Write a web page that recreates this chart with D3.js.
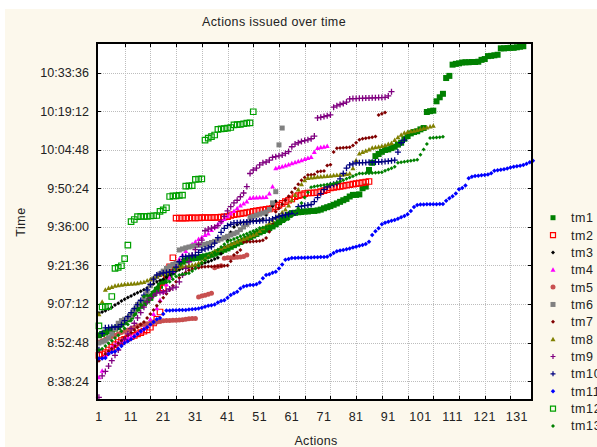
<!DOCTYPE html>
<html>
<head>
<meta charset="utf-8">
<script src="https://cdn.jsdelivr.net/npm/d3@7"></script>
<style>
  body { margin: 0; background: #fff; }
  text { font-family: "Liberation Sans", Arial, sans-serif; fill: #222; }
</style>
</head>
<body>
<div class="canvas"></div>
<script>
// time values are minutes after 8:00, index = action number - 1
const tm1 = [55.5,56.0,56.5,57.0,57.5,58.0,58.5,59.5,60.5,61.5,62.5,64.0,65.5,66.5,67.5,68.5,69.5,71.0,72.5,74.0,
  75.5,77.0,78.0,79.0,80.5,82.0,83.0,83.5,84.0,84.2,84.4,84.5,84.8,85.0,85.3,85.6,86.0,86.5,87.0,87.5,
  88.0,88.6,89.2,89.8,90.4,91.0,91.6,92.2,92.8,93.4,94.0,94.5,95.0,95.6,96.2,97.0,97.8,98.6,99.5,100.5,
  101.2,101.3,101.5,101.6,101.8,101.8,102.0,102.0,102.2,102.5,103.0,103.4,103.8,104.3,104.8,105.4,106.0,106.5,107.4,108.0,
  108.0,108.2,110.5,111.1,117.3,120.0,122.5,123.3,124.1,124.8,125.0,125.5,126.0,126.8,127.5,129.0,130.0,131.0,131.5,131.8,
  132.5,133.0,139.0,139.3,139.5,143.0,144.5,145.8,151.7,152.5,156.7,157.0,157.2,157.5,157.6,157.6,157.7,157.7,157.8,158.5,
  158.8,159.9,160.0,160.2,160.4,162.8,162.8,162.9,163.0,163.0,163.2,163.4,163.6]
const tm2 = [48.0,48.5,49.0,50.0,51.0,52.0,52.8,53.5,54.0,54.5,55.0,55.5,56.0,56.5,57.0,57.5,58.5,60.1,61.5,64.2,
  73.2,78.0,81.1,84.5,99.3,99.3,99.3,99.3,99.4,99.4,99.4,99.4,99.5,99.5,99.5,99.5,99.6,99.6,99.7,99.8,
  99.9,100.3,100.6,100.8,101.0,101.2,101.4,101.6,101.8,102.0,102.2,102.4,102.6,102.8,103.0,103.5,104.2,104.8,105.5,106.0,
  106.5,107.3,107.7,108.0,108.5,108.7,108.7,108.8,108.9,109.2,109.6,110.0,110.6,110.8,111.0,111.2,111.4,111.6,111.8,112.0,
  112.2,112.4,112.6,112.8,113.0]
const tm3 = [63.8,64.2,64.7,65.3,66.0,66.8,67.5,68.3,69.0,69.6,70.2,70.8,71.4,72.0,72.5,73.2,74.0,74.8,75.5,76.0,
  76.5,77.2,78.0,78.8,79.5,80.0,80.5,80.8,81.0,81.2,81.5,81.8,82.2,82.6,83.0,83.5,84.0,84.5,86.0,88.5,
  91.0,94.0,96.0,96.8,97.5,97.8,98.0,98.1,98.2,98.3,98.5,99.0,100.5,102.5,103.8,105.6]
const tm4 = [39.8,42.2,48.0,49.5,51.0,52.0,52.8,53.5,54.0,54.5,55.0,55.5,56.3,57.0,58.0,59.5,61.5,63.5,65.6,68.7,
  71.8,74.5,77.0,79.5,82.0,84.0,85.5,87.0,88.5,89.5,90.5,91.5,92.2,93.0,93.6,94.9,96.0,97.0,98.0,99.0,
  100.0,101.0,102.0,103.0,104.0,104.8,105.5,106.8,107.0,107.0,107.1,107.1,107.2,108.5,111.1,118.0,118.3,118.6,119.0,119.4,
  119.8,120.2,120.6,121.0,121.4,121.8,122.2,124.0,125.5,125.8,126.0,126.3]
const tm5 = [53.0,53.5,54.0,54.5,55.0,55.5,56.0,56.5,57.0,57.5,58.0,58.5,59.0,59.3,59.6,59.8,60.0,60.3,60.5,60.7,
  60.9,61.0,61.0,61.1,61.1,61.2,61.3,61.5,61.7,61.8,61.8,69.8,70.2,70.5,70.8,71.2,80.8,81.2,81.5,84.3,
  84.5,84.5,84.6,84.7,84.8,85.0,85.5]
const tm6 = [52.6,53.0,53.5,54.5,56.0,58.0,60.0,61.0,61.5,62.0,63.0,65.0,67.0,68.0,69.5,71.5,74.0,76.5,77.5,78.5,
  79.5,80.5,81.3,82.0,82.5,87.4,87.8,88.2,88.5,88.8,89.0,89.2,89.3,89.5,89.8,90.2,90.6,91.0,91.5,92.0,
  92.5,93.0,93.5,94.0,95.0,96.0,97.0,99.6,100.0,100.4,100.8,101.2,101.6,102.5,105.0,109.2,126.7,133.0]
const tm7 = [46.0,47.0,48.5,49.5,50.5,51.5,52.5,53.5,54.5,55.5,56.5,57.5,58.5,59.5,60.5,62.0,63.5,65.0,66.5,68.0,
  69.5,71.0,72.5,74.0,75.5,77.0,78.0,79.0,79.8,80.3,80.6,80.8,81.0,81.1,81.2,81.2,81.3,81.3,81.4,81.5,
  81.6,83.2,85.5,86.5,87.4,90.3,90.5,90.5,90.6,90.7,90.8,91.0,91.9,94.2,97.0,101.7,103.0,104.5,106.0,107.5,
  109.0,110.5,112.0,113.5,114.5,115.4,115.5,115.6,116.7,116.8,116.9,119.0,119.3,124.0,125.4,125.5,125.6,125.7,125.8,126.5,
  127.5,128.6,129.0,129.2,129.4,129.6,129.8,137.9,138.3,138.8]
const tm8 = [63.4,68.0,72.5,73.2,73.6,74.0,74.2,74.4,74.6,74.7,74.8,74.9,75.0,75.2,75.4,76.0,76.5,77.0,77.5,78.0,
  78.5,79.0,79.5,80.0,80.5,81.0,81.2,81.4,81.6,81.8,82.0,82.5,83.0,84.0,85.0,86.0,87.0,87.5,88.0,88.5,
  89.0,89.5,90.0,90.5,91.0,91.5,92.0,92.5,93.0,93.5,94.5,95.5,96.5,97.5,98.5,99.5,100.5,101.5,102.5,104.0,
  106.0,108.0,110.0,112.0,113.5,114.3,114.5,114.6,114.8,114.9,115.0,115.1,115.2,115.3,115.4,115.5,115.6,115.8,116.0,118.0,
  121.0,123.5,124.0,124.5,125.0,125.6,125.8,126.0,126.3,126.6,127.0,127.4,128.5,129.6,130.5,131.2,131.5,131.8,132.0,132.3,
  132.6,132.9,133.2,133.6,133.9]
const tm9 = [32.3,40.3,42.0,44.0,46.0,48.0,50.0,52.0,54.0,56.0,58.0,60.0,62.0,64.0,66.0,68.0,69.5,70.5,71.3,71.5,
  71.7,72.0,72.8,73.2,73.5,75.5,78.0,80.5,83.0,85.5,87.5,89.5,91.1,94.6,95.2,95.6,95.9,96.5,98.0,100.0,
  102.0,103.6,105.0,106.0,107.3,108.7,111.1,116.0,117.3,118.0,119.2,120.0,120.3,121.0,122.0,122.3,122.6,122.9,123.5,124.2,
  126.0,127.0,127.5,128.0,128.3,128.6,129.0,130.0,136.8,137.0,137.3,137.6,137.9,140.8,141.3,141.8,142.2,142.7,143.9,144.0,
  144.0,144.1,144.1,144.2,144.2,144.3,144.3,144.4,144.4,144.5,145.0,146.6]
const tm10 = [50.1,56.2,58.3,58.4,58.5,58.6,58.7,59.5,61.0,62.5,64.0,65.5,67.0,68.5,70.5,72.5,74.5,76.5,78.0,78.5,
  78.8,79.0,79.2,79.3,81.0,83.0,84.9,85.0,85.2,85.3,85.5,86.5,87.4,87.8,88.2,88.6,90.0,92.0,94.0,95.5,
  96.5,97.0,97.5,97.6,97.7,97.8,97.9,98.0,98.1,98.2,98.3,98.4,98.5,98.6,99.0,99.5,100.0,100.3,100.5,100.8,
  101.0,101.2,103.6,103.8,104.0,104.2,104.4,105.5,107.0,108.5,110.0,111.0,111.7,112.0,112.4,114.0,116.0,118.0,119.2,119.6,
  120.0,120.0,120.1,120.1,120.2,120.2,120.3,120.3,120.4,120.5,120.6,120.8,121.0,124.0,127.5,128.5]
const tm11 = [46.8,46.8,47.0,48.5,49.2,49.4,50.5,51.5,52.6,53.3,54.0,55.0,56.0,57.0,57.8,58.5,59.5,60.5,61.5,62.0,
  63.5,64.8,64.8,64.9,64.9,65.0,65.0,65.0,65.1,65.2,65.3,65.5,65.8,66.2,66.5,66.7,67.0,67.8,68.3,68.6,
  69.5,70.6,71.2,71.8,73.0,73.7,74.0,74.3,74.3,74.6,75.2,76.8,78.0,78.3,78.9,79.3,80.5,82.0,83.7,84.0,
  84.4,84.4,84.5,84.5,84.5,84.6,84.6,84.7,84.7,84.8,84.8,84.9,85.5,86.3,86.9,87.2,87.4,87.7,88.0,88.3,
  88.6,89.0,89.3,89.6,90.5,93.0,94.4,95.5,97.0,97.6,98.0,98.3,98.6,99.1,99.6,100.1,100.8,102.0,103.5,104.2,
  104.4,104.4,104.5,104.5,104.5,104.5,104.6,104.6,105.8,106.7,107.5,108.5,110.1,110.6,111.5,114.2,114.8,115.1,115.2,115.3,
  115.4,115.6,116.1,117.0,117.2,117.4,117.6,117.9,118.2,118.5,118.7,118.9,119.2,119.6,120.2,120.8]
const tm12 = [59.0,66.1,66.2,66.3,70.0,80.5,80.9,81.5,84.2,89.2,98.0,98.8,99.9,100.0,100.0,100.0,100.1,100.2,100.3,101.8,
  102.4,103.2,107.4,107.6,107.6,107.8,107.9,111.3,111.4,111.5,113.8,113.9,114.0,128.5,129.2,129.8,130.4,132.5,132.7,132.8,
  133.0,133.2,134.2,134.3,134.4,134.6,134.8,134.9,139.1]
const tm13 = [50.0,50.5,51.5,52.5,53.5,54.5,55.5,57.0,58.0,59.5,61.0,63.0,65.0,67.0,70.0,70.4,70.6,72.0,73.5,75.0,
  75.2,75.3,75.5,76.5,77.5,78.0,78.3,78.5,78.7,79.5,80.5,81.5,82.5,83.5,84.5,85.5,86.5,87.5,88.5,89.5,
  90.5,91.0,91.5,92.0,92.5,93.0,93.5,94.0,94.5,95.0,95.6,95.8,96.0,96.3,96.6,97.0,97.5,98.0,98.5,99.0,
  100.0,101.5,103.0,105.0,107.0,109.0,110.9,111.1,111.3,111.5,111.7,111.9,112.1,112.3,112.6,113.0,113.5,114.0,114.5,115.0,
  115.5,116.0,116.0,116.1,116.1,116.2,116.3,116.4,116.5,117.0,117.5,118.0,118.5,120.0,120.2,120.4,120.6,120.8,121.0,121.1,
  123.0,125.0,127.0,129.3,129.4,129.5,129.6,129.7]

const seriesNames = ['tm1','tm2','tm3','tm4','tm5','tm6','tm7','tm8','tm9','tm10','tm11','tm12','tm13']
const seriesValues = [tm1,tm2,tm3,tm4,tm5,tm6,tm7,tm8,tm9,tm10,tm11,tm12,tm13]
const xTickLabels = [1,11,21,31,41,51,61,71,81,91,101,111,121,131]
const yTickMinutes = [38.4,52.8,67.2,81.6,96.0,110.4,124.8,139.2,153.6]

// marker style per series
const styles = {
  tm1:  {shape:'square',  size:6,   fill:'#008000', stroke:'none'},
  tm2:  {shape:'square',  size:5.5, fill:'none',    stroke:'#ff0000'},
  tm3:  {shape:'diamond', size:4,   fill:'#000000', stroke:'none'},
  tm4:  {shape:'triangle',size:5,   fill:'#ff00ff', stroke:'none'},
  tm5:  {shape:'circle',  size:5,   fill:'#c85050', stroke:'none'},
  tm6:  {shape:'square',  size:5,   fill:'#808080', stroke:'none'},
  tm7:  {shape:'diamond', size:4,   fill:'#800000', stroke:'none'},
  tm8:  {shape:'triangle',size:5,   fill:'#808000', stroke:'none'},
  tm9:  {shape:'plus',    size:6,   fill:'none',    stroke:'#800080'},
  tm10: {shape:'plus',    size:6,   fill:'none',    stroke:'#000080'},
  tm11: {shape:'diamond', size:4.5, fill:'#0000ff', stroke:'none'},
  tm12: {shape:'square',  size:5.5, fill:'none',    stroke:'#00a000'},
  tm13: {shape:'diamond', size:4,   fill:'#008000', stroke:'none'}
}

const dims = { width: 597, height: 447 }
const plot = { left: 97, top: 43, right: 532, bottom: 400 }

const svg = d3.select('.canvas')
  .append('svg')
  .attr('width', dims.width)
  .attr('height', dims.height)

svg.append('rect')
  .attr('x', 5).attr('y', 9)
  .attr('width', dims.width - 5).attr('height', dims.height - 9)
  .attr('fill', '#fcf8ec')

svg.append('rect')
  .attr('x', plot.left).attr('y', plot.top)
  .attr('width', plot.right - plot.left).attr('height', plot.bottom - plot.top)
  .attr('fill', '#fff')

const x = d3.scaleLinear().domain([0.4, 135.7]).range([plot.left, plot.right])
const y = d3.scaleLinear().domain([31.3, 164.8]).range([plot.bottom, plot.top])

const fmtTime = m => {
  const s = Math.round(m * 60) + 8 * 3600
  const h = Math.floor(s / 3600)
  const mm = Math.floor((s % 3600) / 60)
  const ss = s % 60
  return `${h}:${String(mm).padStart(2,'0')}:${String(ss).padStart(2,'0')}`
}

// grid
const xGrid = d3.range(9, 136, 8)
const grid = svg.append('g')
  .attr('stroke', '#bdbdbd')
  .attr('stroke-width', 1)
  .attr('stroke-dasharray', '1,1')
grid.selectAll('.vg').data(xGrid).enter().append('line')
  .attr('x1', d => Math.round(x(d)) + 0.5).attr('x2', d => Math.round(x(d)) + 0.5)
  .attr('y1', plot.top).attr('y2', plot.bottom)
grid.selectAll('.hg').data(yTickMinutes).enter().append('line')
  .attr('y1', d => Math.round(y(d)) + 0.5).attr('y2', d => Math.round(y(d)) + 0.5)
  .attr('x1', plot.left).attr('x2', plot.right)

// inner ticks on all four sides
const ticks = svg.append('g').attr('stroke', '#000').attr('stroke-width', 1)
xGrid.forEach(d => {
  const px = Math.round(x(d)) + 0.5
  ticks.append('line').attr('x1', px).attr('x2', px).attr('y1', plot.top).attr('y2', plot.top + 4)
  ticks.append('line').attr('x1', px).attr('x2', px).attr('y1', plot.bottom).attr('y2', plot.bottom - 4)
})
yTickMinutes.forEach(d => {
  const py = Math.round(y(d)) + 0.5
  ticks.append('line').attr('x1', plot.left).attr('x2', plot.left + 4).attr('y1', py).attr('y2', py)
  ticks.append('line').attr('x1', plot.right).attr('x2', plot.right - 4).attr('y1', py).attr('y2', py)
})

// marker paths
const markerPath = st => {
  const h = st.size / 2
  switch (st.shape) {
    case 'square': return `M${-h},${-h}H${h}V${h}H${-h}Z`
    case 'diamond': return `M0,${-h}L${h},0L0,${h}L${-h},0Z`
    case 'triangle': return `M0,${-h}L${h},${h * 0.8}L${-h},${h * 0.8}Z`
    case 'circle': return d3.arc()({innerRadius: 0, outerRadius: h, startAngle: 0, endAngle: 2 * Math.PI})
    case 'plus': return `M${-h},0H${h}M0,${-h}V${h}`
  }
}

const series = seriesNames.map((name, i) => ({
  name,
  points: seriesValues[i].map((v, j) => ({action: j + 1, time: v}))
}))

const graph = svg.append('g')
series.forEach(s => {
  const st = styles[s.name]
  const path = markerPath(st)
  graph.append('g').attr('class', s.name)
    .selectAll('path')
    .data(s.points)
    .enter()
    .append('path')
      .attr('transform', d => `translate(${x(d.action)},${y(d.time)})`)
      .attr('d', path)
      .attr('fill', st.fill)
      .attr('stroke', st.stroke)
      .attr('stroke-width', st.shape === 'plus' ? 1.3 : 1.2)
})

// frame
svg.append('rect')
  .attr('x', plot.left).attr('y', plot.top)
  .attr('width', plot.right - plot.left).attr('height', plot.bottom - plot.top)
  .attr('fill', 'none')
  .attr('stroke', '#000')
  .attr('stroke-width', 2)

// axis labels
svg.append('g').selectAll('text').data(yTickMinutes).enter().append('text')
  .attr('x', 89).attr('y', d => y(d) + 4.5)
  .attr('text-anchor', 'end')
  .attr('font-size', 12.5)
  .text(fmtTime)

svg.append('g').selectAll('text').data(xTickLabels).enter().append('text')
  .attr('x', d => x(d)).attr('y', 421)
  .attr('text-anchor', 'middle')
  .attr('font-size', 12.5)
  .attr('letter-spacing', 0.5)
  .text(d => d)

svg.append('text')
  .attr('x', 274).attr('y', 26)
  .attr('text-anchor', 'middle')
  .attr('font-size', 12.5)
  .attr('letter-spacing', 0.35)
  .text('Actions issued over time')

svg.append('text')
  .attr('x', 316).attr('y', 445)
  .attr('text-anchor', 'middle')
  .attr('font-size', 12.5)
  .attr('letter-spacing', 0.3)
  .text('Actions')

svg.append('text')
  .attr('transform', 'translate(25,222) rotate(-90)')
  .attr('text-anchor', 'middle')
  .attr('font-size', 12.5)
  .attr('letter-spacing', 0.5)
  .text('Time')

// legend (the page edge cuts the longer names, as in the original)
const legendGroup = svg.append('g')
seriesNames.forEach((name, i) => {
  const st = styles[name]
  const ly = 217.7 + i * 17.35
  legendGroup.append('path')
    .attr('transform', `translate(553,${ly})`)
    .attr('d', markerPath({...st, size: Math.min(st.size, 5)}))
    .attr('fill', st.fill)
    .attr('stroke', st.stroke)
    .attr('stroke-width', 1.2)
  legendGroup.append('text')
    .attr('x', 571).attr('y', ly + 4.5)
    .attr('font-size', 12.5)
    .attr('letter-spacing', 0.6)
    .text(name)
})
</script>
</body>
</html>
